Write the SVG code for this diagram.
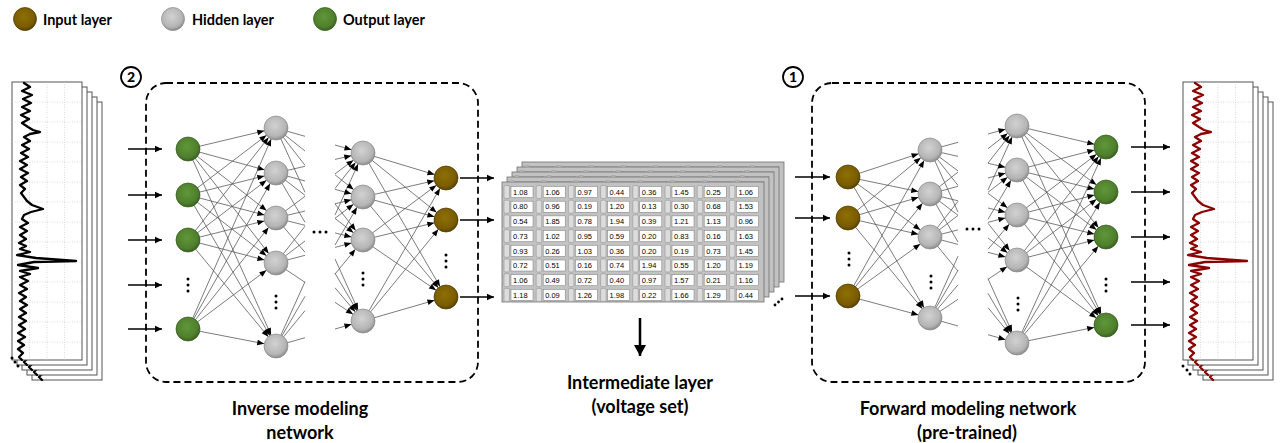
<svg xmlns="http://www.w3.org/2000/svg" xmlns:xlink="http://www.w3.org/1999/xlink" width="1280" height="443" viewBox="0 0 1280 443">
<style>
.c{stroke:#5a5a5a;stroke-width:0.8;fill:none}
.ca{stroke:#5a5a5a;stroke-width:0.8;fill:none;marker-end:url(#ah)}
.arr{stroke:#000;stroke-width:1.3;fill:none;marker-end:url(#ar)}
.box{fill:none;stroke:#000;stroke-width:1.8;stroke-dasharray:7 4}
.nb{fill:url(#gb);stroke:#4a3800;stroke-width:0.7}
.nh{fill:url(#gh);stroke:#8a8a8a;stroke-width:0.7}
.ng{fill:url(#gg);stroke:#34591f;stroke-width:0.7}
.lbl{font-family:Lato,"Liberation Sans",sans-serif;font-weight:bold;font-size:18px;text-anchor:middle;fill:#000}
.leg{font-family:Lato,"Liberation Sans",sans-serif;font-weight:bold;font-size:14.5px;fill:#000}
.num{font-family:"Liberation Sans",Arial,sans-serif;font-size:7.5px;fill:#000}
.pw{fill:#fff;stroke:#555;stroke-width:1}
.gl{stroke:#c4c4c4;stroke-width:0.6;stroke-dasharray:1 1.5}
.vp{fill:#c2c2c2;stroke:#707070;stroke-width:0.8}
.d{fill:#000}
.circ{fill:#fff;stroke:#000;stroke-width:1.8}
.cn{font-family:Lato,"Liberation Sans",sans-serif;font-weight:900;font-size:14px;text-anchor:middle}
</style>
<defs>
<radialGradient id="gb" cx="0.45" cy="0.4" r="0.6"><stop offset="0" stop-color="#8e6f06"/><stop offset="0.75" stop-color="#7a5c00"/><stop offset="1" stop-color="#584200"/></radialGradient>
<radialGradient id="gh" cx="0.45" cy="0.4" r="0.6"><stop offset="0" stop-color="#d2d2d2"/><stop offset="0.75" stop-color="#b5b5b5"/><stop offset="1" stop-color="#8c8c8c"/></radialGradient>
<radialGradient id="gg" cx="0.45" cy="0.4" r="0.6"><stop offset="0" stop-color="#609739"/><stop offset="0.75" stop-color="#4f7f2c"/><stop offset="1" stop-color="#3a6120"/></radialGradient>
<marker id="ah" markerUnits="userSpaceOnUse" markerWidth="30" markerHeight="30" orient="auto" overflow="visible" refX="0" refY="0"><path d="M-19,-2.8 L-12,0 L-19,2.8 z" fill="#000"/></marker>
<marker id="ar" markerUnits="userSpaceOnUse" markerWidth="30" markerHeight="30" orient="auto" overflow="visible" refX="0" refY="0"><path d="M-7,-3.2 L0,0 L-7,3.2 z" fill="#000"/></marker>
<marker id="ad" markerUnits="userSpaceOnUse" markerWidth="30" markerHeight="30" orient="auto" overflow="visible" refX="0" refY="0"><path d="M-11,-6 L0,0 L-11,6 z" fill="#000"/></marker>
<path id="spec" d="M12,1 L18,5 L10,9 L20,13 L11,17 L19,21 L10,25 L18,29 L9,33 L17,37 L10,41 L16,45 L21,48 L28,50 L18,52 L12,55 L18,59 L10,63 L17,67 L9,71 L16,75 L8,79 L15,83 L8,87 L16,91 L9,95 L15,99 L8,103 L13,107 L9,111 L12,115 L15,119 L20,123 L31,127 L19,130 L12,133 L10,137 L16,141 L8,145 L15,149 L8,153 L14,157 L7,161 L14,164 L8,167 L18,170 L5,173 L24,176 L64,179 L22,180 L6,183 L26,186 L8,189 L18,192 L8,195 L16,199 L8,203 L15,207 L7,211 L14,215 L8,219 L15,223 L8,227 L14,231 L7,235 L14,239 L7,243 L13,247 L6,251 L13,255 L6,259 L12,263 L6,267 L11,271 L7,275 L10,278" fill="none" stroke-width="2.3" stroke-linejoin="round" stroke-linecap="round"/>
<g id="grd">
<line class="gl" x1="17.5" y1="0" x2="17.5" y2="278"/><line class="gl" x1="35" y1="0" x2="35" y2="278"/><line class="gl" x1="52.5" y1="0" x2="52.5" y2="278"/>
<line class="gl" x1="0" y1="20" x2="70" y2="20"/><line class="gl" x1="0" y1="40" x2="70" y2="40"/><line class="gl" x1="0" y1="60" x2="70" y2="60"/><line class="gl" x1="0" y1="80" x2="70" y2="80"/><line class="gl" x1="0" y1="100" x2="70" y2="100"/><line class="gl" x1="0" y1="120" x2="70" y2="120"/><line class="gl" x1="0" y1="140" x2="70" y2="140"/><line class="gl" x1="0" y1="160" x2="70" y2="160"/><line class="gl" x1="0" y1="180" x2="70" y2="180"/><line class="gl" x1="0" y1="200" x2="70" y2="200"/><line class="gl" x1="0" y1="220" x2="70" y2="220"/><line class="gl" x1="0" y1="240" x2="70" y2="240"/><line class="gl" x1="0" y1="260" x2="70" y2="260"/>
</g>
<g id="cell"><rect x="-7" y="-6.5" width="5.5" height="13" rx="1.5" fill="#dcdcdc" stroke="#8a8a8a" stroke-width="0.5"/><rect x="0" y="-5.5" width="22" height="11" fill="#fff" stroke="#7a7a7a" stroke-width="0.5"/></g>
<g id="row"><use xlink:href="#cell" x="511"/><use xlink:href="#cell" x="543.2"/><use xlink:href="#cell" x="575.4"/><use xlink:href="#cell" x="607.6"/><use xlink:href="#cell" x="639.8"/><use xlink:href="#cell" x="672"/><use xlink:href="#cell" x="704.2"/><use xlink:href="#cell" x="736.4"/></g>
</defs>
<rect width="1280" height="443" fill="#fff"/>

<g id="legend">
<circle class="nb" cx="25" cy="19" r="11.5"/><text class="leg" x="43" y="24.5">Input layer</text>
<circle class="nh" cx="173" cy="19" r="11.5"/><text class="leg" x="192" y="24.5">Hidden layer</text>
<circle class="ng" cx="325" cy="19" r="11.5"/><text class="leg" x="343" y="24.5">Output layer</text>
</g>

<g id="input-spectra">
<rect class="pw" x="32" y="102" width="70" height="278"/><use xlink:href="#spec" x="32" y="102" stroke="#000"/>
<rect class="pw" x="27" y="97" width="70" height="278"/><use xlink:href="#spec" x="27" y="97" stroke="#000"/>
<rect class="pw" x="22" y="92" width="70" height="278"/><use xlink:href="#spec" x="22" y="92" stroke="#000"/>
<rect class="pw" x="17" y="87" width="70" height="278"/><use xlink:href="#spec" x="17" y="87" stroke="#000"/>
<rect class="pw" x="12" y="82" width="70" height="278"/><use xlink:href="#grd" x="12" y="82"/><use xlink:href="#spec" x="12" y="82" stroke="#000"/>
<circle class="d" cx="12" cy="358" r="1.5"/><circle class="d" cx="15" cy="362" r="1.5"/><circle class="d" cx="18" cy="366" r="1.5"/>
</g>

<g id="output-spectra">
<rect class="pw" x="1203" y="102" width="70" height="278"/><use xlink:href="#spec" x="1203" y="102" stroke="#8b0000"/>
<rect class="pw" x="1198" y="97" width="70" height="278"/><use xlink:href="#spec" x="1198" y="97" stroke="#8b0000"/>
<rect class="pw" x="1193" y="92" width="70" height="278"/><use xlink:href="#spec" x="1193" y="92" stroke="#8b0000"/>
<rect class="pw" x="1188" y="87" width="70" height="278"/><use xlink:href="#spec" x="1188" y="87" stroke="#8b0000"/>
<rect class="pw" x="1183" y="82" width="70" height="278"/><use xlink:href="#grd" x="1183" y="82"/><use xlink:href="#spec" x="1183" y="82" stroke="#8b0000"/>
<circle class="d" cx="1183" cy="366" r="1.5"/><circle class="d" cx="1187" cy="370" r="1.5"/><circle class="d" cx="1190" cy="374" r="1.5"/>
</g>

<g id="inverse-box"><rect class="box" x="146" y="83" width="332" height="299" rx="20"/><circle class="circ" cx="131" cy="77" r="10"/><text class="cn" x="131" y="82">2</text></g>
<g id="forward-box"><rect class="box" x="812" y="83" width="333" height="299" rx="20"/><circle class="circ" cx="793" cy="77" r="10"/><text class="cn" x="793" y="82">1</text></g>

<g id="voltage-set">
<rect class="vp" x="522" y="162" width="262" height="120"/><use xlink:href="#row" x="20" y="172"/>
<rect class="vp" x="517" y="167" width="262" height="120"/><use xlink:href="#row" x="15" y="177"/>
<rect class="vp" x="512" y="172" width="262" height="120"/><use xlink:href="#row" x="10" y="182"/>
<rect class="vp" x="507" y="177" width="262" height="120"/><use xlink:href="#row" x="5" y="187"/>
<rect class="vp" x="502" y="182" width="262" height="120"/>
<use xlink:href="#row" y="192"/><use xlink:href="#row" y="206.7"/><use xlink:href="#row" y="221.4"/><use xlink:href="#row" y="236.1"/><use xlink:href="#row" y="250.8"/><use xlink:href="#row" y="265.5"/><use xlink:href="#row" y="280.2"/><use xlink:href="#row" y="294.9"/>
<g class="num">
<g transform="translate(0,194.7)"><text x="513">1.08</text><text x="545.2">1.06</text><text x="577.4">0.97</text><text x="609.6">0.44</text><text x="641.8">0.36</text><text x="674">1.45</text><text x="706.2">0.25</text><text x="738.4">1.06</text></g>
<g transform="translate(0,209.4)"><text x="513">0.80</text><text x="545.2">0.96</text><text x="577.4">0.19</text><text x="609.6">1.20</text><text x="641.8">0.13</text><text x="674">0.30</text><text x="706.2">0.68</text><text x="738.4">1.53</text></g>
<g transform="translate(0,224.1)"><text x="513">0.54</text><text x="545.2">1.85</text><text x="577.4">0.78</text><text x="609.6">1.94</text><text x="641.8">0.39</text><text x="674">1.21</text><text x="706.2">1.13</text><text x="738.4">0.96</text></g>
<g transform="translate(0,238.8)"><text x="513">0.73</text><text x="545.2">1.02</text><text x="577.4">0.95</text><text x="609.6">0.59</text><text x="641.8">0.20</text><text x="674">0.83</text><text x="706.2">0.16</text><text x="738.4">1.63</text></g>
<g transform="translate(0,253.5)"><text x="513">0.93</text><text x="545.2">0.26</text><text x="577.4">1.03</text><text x="609.6">0.36</text><text x="641.8">0.20</text><text x="674">0.19</text><text x="706.2">0.73</text><text x="738.4">1.45</text></g>
<g transform="translate(0,268.2)"><text x="513">0.72</text><text x="545.2">0.51</text><text x="577.4">0.16</text><text x="609.6">0.74</text><text x="641.8">1.94</text><text x="674">0.55</text><text x="706.2">1.20</text><text x="738.4">1.19</text></g>
<g transform="translate(0,282.9)"><text x="513">1.06</text><text x="545.2">0.49</text><text x="577.4">0.72</text><text x="609.6">0.40</text><text x="641.8">0.97</text><text x="674">1.57</text><text x="706.2">0.21</text><text x="738.4">1.16</text></g>
<g transform="translate(0,297.6)"><text x="513">1.18</text><text x="545.2">0.09</text><text x="577.4">1.26</text><text x="609.6">1.98</text><text x="641.8">0.22</text><text x="674">1.66</text><text x="706.2">1.29</text><text x="738.4">0.44</text></g>
</g>
<circle class="d" cx="775" cy="305" r="1.4"/><circle class="d" cx="778.5" cy="302" r="1.4"/><circle class="d" cx="782" cy="299" r="1.4"/>
</g>

<g id="connectors">
<line class="arr" x1="128" y1="149" x2="162" y2="149"/><line class="arr" x1="128" y1="195" x2="162" y2="195"/><line class="arr" x1="128" y1="240" x2="162" y2="240"/><line class="arr" x1="128" y1="285" x2="162" y2="285"/><line class="arr" x1="128" y1="329" x2="162" y2="329"/>
<line class="arr" x1="460" y1="178" x2="494" y2="178"/><line class="arr" x1="460" y1="220" x2="494" y2="220"/><line class="arr" x1="460" y1="297" x2="494" y2="297"/>
<line class="arr" x1="795" y1="177" x2="830" y2="177"/><line class="arr" x1="795" y1="218" x2="830" y2="218"/><line class="arr" x1="795" y1="296" x2="830" y2="296"/>
<line class="arr" x1="1131" y1="147" x2="1170" y2="147"/><line class="arr" x1="1131" y1="192" x2="1170" y2="192"/><line class="arr" x1="1131" y1="237" x2="1170" y2="237"/><line class="arr" x1="1131" y1="282" x2="1170" y2="282"/><line class="arr" x1="1131" y1="325" x2="1170" y2="325"/>
<line x1="640" y1="318" x2="640" y2="356" stroke="#000" stroke-width="2.5" marker-end="url(#ad)"/>

<line class="ca" x1="188" y1="149" x2="276" y2="128"/><line class="ca" x1="188" y1="149" x2="276" y2="173"/><line class="ca" x1="188" y1="149" x2="276" y2="218"/><line class="ca" x1="188" y1="149" x2="276" y2="263"/><line class="ca" x1="188" y1="149" x2="276" y2="346"/>
<line class="ca" x1="188" y1="195" x2="276" y2="128"/><line class="ca" x1="188" y1="195" x2="276" y2="173"/><line class="ca" x1="188" y1="195" x2="276" y2="218"/><line class="ca" x1="188" y1="195" x2="276" y2="263"/><line class="ca" x1="188" y1="195" x2="276" y2="346"/>
<line class="ca" x1="188" y1="240" x2="276" y2="128"/><line class="ca" x1="188" y1="240" x2="276" y2="173"/><line class="ca" x1="188" y1="240" x2="276" y2="218"/><line class="ca" x1="188" y1="240" x2="276" y2="263"/><line class="ca" x1="188" y1="240" x2="276" y2="346"/>
<line class="ca" x1="188" y1="329" x2="276" y2="128"/><line class="ca" x1="188" y1="329" x2="276" y2="173"/><line class="ca" x1="188" y1="329" x2="276" y2="218"/><line class="ca" x1="188" y1="329" x2="276" y2="263"/><line class="ca" x1="188" y1="329" x2="276" y2="346"/>

<line class="c" x1="276" y1="128" x2="305" y2="136.3"/><line class="c" x1="276" y1="128" x2="305" y2="151"/><line class="c" x1="276" y1="128" x2="305" y2="165.3"/><line class="c" x1="276" y1="128" x2="305" y2="192.3"/>
<line class="c" x1="276" y1="173" x2="305" y2="166.3"/><line class="c" x1="276" y1="173" x2="305" y2="181"/><line class="c" x1="276" y1="173" x2="305" y2="195.3"/><line class="c" x1="276" y1="173" x2="305" y2="222.3"/>
<line class="c" x1="276" y1="218" x2="305" y2="196.3"/><line class="c" x1="276" y1="218" x2="305" y2="211"/><line class="c" x1="276" y1="218" x2="305" y2="225.3"/><line class="c" x1="276" y1="218" x2="305" y2="252.3"/>
<line class="c" x1="276" y1="263" x2="305" y2="226.3"/><line class="c" x1="276" y1="263" x2="305" y2="241"/><line class="c" x1="276" y1="263" x2="305" y2="255.3"/><line class="c" x1="276" y1="263" x2="305" y2="282.3"/>
<line class="c" x1="276" y1="346" x2="305" y2="281.7"/><line class="c" x1="276" y1="346" x2="305" y2="296.3"/><line class="c" x1="276" y1="346" x2="305" y2="310.7"/><line class="c" x1="276" y1="346" x2="305" y2="337.7"/>

<line class="ca" x1="335" y1="145" x2="363" y2="153"/><line class="ca" x1="335" y1="159.4" x2="363" y2="153"/><line class="ca" x1="335" y1="173.9" x2="363" y2="153"/><line class="ca" x1="335" y1="188.4" x2="363" y2="153"/><line class="ca" x1="335" y1="215.1" x2="363" y2="153"/>
<line class="ca" x1="335" y1="174.8" x2="363" y2="197"/><line class="ca" x1="335" y1="189.3" x2="363" y2="197"/><line class="ca" x1="335" y1="203.8" x2="363" y2="197"/><line class="ca" x1="335" y1="218.3" x2="363" y2="197"/><line class="ca" x1="335" y1="245" x2="363" y2="197"/>
<line class="ca" x1="335" y1="203.9" x2="363" y2="240"/><line class="ca" x1="335" y1="218.4" x2="363" y2="240"/><line class="ca" x1="335" y1="232.9" x2="363" y2="240"/><line class="ca" x1="335" y1="247.4" x2="363" y2="240"/><line class="ca" x1="335" y1="274.1" x2="363" y2="240"/>
<line class="ca" x1="335" y1="258.9" x2="363" y2="321"/><line class="ca" x1="335" y1="273.3" x2="363" y2="321"/><line class="ca" x1="335" y1="287.8" x2="363" y2="321"/><line class="ca" x1="335" y1="302.3" x2="363" y2="321"/><line class="ca" x1="335" y1="329" x2="363" y2="321"/>

<line class="ca" x1="363" y1="153" x2="446" y2="178"/><line class="ca" x1="363" y1="153" x2="446" y2="220"/><line class="ca" x1="363" y1="153" x2="446" y2="297"/>
<line class="ca" x1="363" y1="197" x2="446" y2="178"/><line class="ca" x1="363" y1="197" x2="446" y2="220"/><line class="ca" x1="363" y1="197" x2="446" y2="297"/>
<line class="ca" x1="363" y1="240" x2="446" y2="178"/><line class="ca" x1="363" y1="240" x2="446" y2="220"/><line class="ca" x1="363" y1="240" x2="446" y2="297"/>
<line class="ca" x1="363" y1="321" x2="446" y2="178"/><line class="ca" x1="363" y1="321" x2="446" y2="220"/><line class="ca" x1="363" y1="321" x2="446" y2="297"/>

<line class="ca" x1="848" y1="177" x2="930" y2="150"/><line class="ca" x1="848" y1="177" x2="930" y2="194"/><line class="ca" x1="848" y1="177" x2="930" y2="237"/><line class="ca" x1="848" y1="177" x2="930" y2="318"/>
<line class="ca" x1="848" y1="218" x2="930" y2="150"/><line class="ca" x1="848" y1="218" x2="930" y2="194"/><line class="ca" x1="848" y1="218" x2="930" y2="237"/><line class="ca" x1="848" y1="218" x2="930" y2="318"/>
<line class="ca" x1="848" y1="296" x2="930" y2="150"/><line class="ca" x1="848" y1="296" x2="930" y2="194"/><line class="ca" x1="848" y1="296" x2="930" y2="237"/><line class="ca" x1="848" y1="296" x2="930" y2="318"/>

<line class="c" x1="930" y1="150" x2="958" y2="142.3"/><line class="c" x1="930" y1="150" x2="958" y2="156.4"/><line class="c" x1="930" y1="150" x2="958" y2="170.9"/><line class="c" x1="930" y1="150" x2="958" y2="185.4"/><line class="c" x1="930" y1="150" x2="958" y2="212.1"/>
<line class="c" x1="930" y1="194" x2="958" y2="172.1"/><line class="c" x1="930" y1="194" x2="958" y2="186.3"/><line class="c" x1="930" y1="194" x2="958" y2="200.8"/><line class="c" x1="930" y1="194" x2="958" y2="215.3"/><line class="c" x1="930" y1="194" x2="958" y2="242"/>
<line class="c" x1="930" y1="237" x2="958" y2="201.3"/><line class="c" x1="930" y1="237" x2="958" y2="215.4"/><line class="c" x1="930" y1="237" x2="958" y2="229.9"/><line class="c" x1="930" y1="237" x2="958" y2="244.4"/><line class="c" x1="930" y1="237" x2="958" y2="271.1"/>
<line class="c" x1="930" y1="318" x2="958" y2="256.2"/><line class="c" x1="930" y1="318" x2="958" y2="270.3"/><line class="c" x1="930" y1="318" x2="958" y2="284.8"/><line class="c" x1="930" y1="318" x2="958" y2="299.3"/><line class="c" x1="930" y1="318" x2="958" y2="326"/>

<line class="ca" x1="988" y1="134" x2="1017" y2="126"/><line class="ca" x1="988" y1="148.7" x2="1017" y2="126"/><line class="ca" x1="988" y1="163" x2="1017" y2="126"/><line class="ca" x1="988" y1="190" x2="1017" y2="126"/>
<line class="ca" x1="988" y1="163.3" x2="1017" y2="170"/><line class="ca" x1="988" y1="178" x2="1017" y2="170"/><line class="ca" x1="988" y1="192.3" x2="1017" y2="170"/><line class="ca" x1="988" y1="219.3" x2="1017" y2="170"/>
<line class="ca" x1="988" y1="193.3" x2="1017" y2="215"/><line class="ca" x1="988" y1="208" x2="1017" y2="215"/><line class="ca" x1="988" y1="222.3" x2="1017" y2="215"/><line class="ca" x1="988" y1="249.3" x2="1017" y2="215"/>
<line class="ca" x1="988" y1="223.3" x2="1017" y2="260"/><line class="ca" x1="988" y1="238" x2="1017" y2="260"/><line class="ca" x1="988" y1="252.3" x2="1017" y2="260"/><line class="ca" x1="988" y1="279.3" x2="1017" y2="260"/>
<line class="ca" x1="988" y1="278.7" x2="1017" y2="343"/><line class="ca" x1="988" y1="293.3" x2="1017" y2="343"/><line class="ca" x1="988" y1="307.7" x2="1017" y2="343"/><line class="ca" x1="988" y1="334.7" x2="1017" y2="343"/>

<line class="ca" x1="1017" y1="126" x2="1106" y2="147"/><line class="ca" x1="1017" y1="126" x2="1106" y2="192"/><line class="ca" x1="1017" y1="126" x2="1106" y2="237"/><line class="ca" x1="1017" y1="126" x2="1106" y2="325"/>
<line class="ca" x1="1017" y1="170" x2="1106" y2="147"/><line class="ca" x1="1017" y1="170" x2="1106" y2="192"/><line class="ca" x1="1017" y1="170" x2="1106" y2="237"/><line class="ca" x1="1017" y1="170" x2="1106" y2="325"/>
<line class="ca" x1="1017" y1="215" x2="1106" y2="147"/><line class="ca" x1="1017" y1="215" x2="1106" y2="192"/><line class="ca" x1="1017" y1="215" x2="1106" y2="237"/><line class="ca" x1="1017" y1="215" x2="1106" y2="325"/>
<line class="ca" x1="1017" y1="260" x2="1106" y2="147"/><line class="ca" x1="1017" y1="260" x2="1106" y2="192"/><line class="ca" x1="1017" y1="260" x2="1106" y2="237"/><line class="ca" x1="1017" y1="260" x2="1106" y2="325"/>
<line class="ca" x1="1017" y1="343" x2="1106" y2="147"/><line class="ca" x1="1017" y1="343" x2="1106" y2="192"/><line class="ca" x1="1017" y1="343" x2="1106" y2="237"/><line class="ca" x1="1017" y1="343" x2="1106" y2="325"/>
</g>

<g id="inv-out-1"><circle class="ng" cx="188" cy="149" r="12"/></g>
<g id="inv-out-2"><circle class="ng" cx="188" cy="195" r="12"/></g>
<g id="inv-out-3"><circle class="ng" cx="188" cy="240" r="12"/></g>
<g id="inv-out-n"><circle class="ng" cx="188" cy="329" r="12"/></g>
<g id="inv-out-dots"><circle class="d" cx="188" cy="279" r="1.5"/><circle class="d" cx="188" cy="285" r="1.5"/><circle class="d" cx="188" cy="291" r="1.5"/></g>
<g id="inv-h1-1"><circle class="nh" cx="276" cy="128" r="12"/></g>
<g id="inv-h1-2"><circle class="nh" cx="276" cy="173" r="12"/></g>
<g id="inv-h1-3"><circle class="nh" cx="276" cy="218" r="12"/></g>
<g id="inv-h1-4"><circle class="nh" cx="276" cy="263" r="12"/></g>
<g id="inv-h1-n"><circle class="nh" cx="276" cy="346" r="12"/></g>
<g id="inv-h1-dots"><circle class="d" cx="276" cy="296" r="1.5"/><circle class="d" cx="276" cy="302" r="1.5"/><circle class="d" cx="276" cy="308" r="1.5"/></g>
<g id="inv-mid-dots"><circle class="d" cx="314" cy="232" r="1.5"/><circle class="d" cx="320" cy="232" r="1.5"/><circle class="d" cx="326" cy="232" r="1.5"/></g>
<g id="inv-h2-1"><circle class="nh" cx="363" cy="153" r="12"/></g>
<g id="inv-h2-2"><circle class="nh" cx="363" cy="197" r="12"/></g>
<g id="inv-h2-3"><circle class="nh" cx="363" cy="240" r="12"/></g>
<g id="inv-h2-n"><circle class="nh" cx="363" cy="321" r="12"/></g>
<g id="inv-h2-dots"><circle class="d" cx="363" cy="273" r="1.5"/><circle class="d" cx="363" cy="279" r="1.5"/><circle class="d" cx="363" cy="285" r="1.5"/></g>
<g id="inv-in-1"><circle class="nb" cx="446" cy="178" r="12"/></g>
<g id="inv-in-2"><circle class="nb" cx="446" cy="220" r="12"/></g>
<g id="inv-in-n"><circle class="nb" cx="446" cy="297" r="12"/></g>
<g id="inv-in-dots"><circle class="d" cx="446" cy="255" r="1.5"/><circle class="d" cx="446" cy="261" r="1.5"/><circle class="d" cx="446" cy="267" r="1.5"/></g>

<g id="fwd-in-1"><circle class="nb" cx="848" cy="177" r="12"/></g>
<g id="fwd-in-2"><circle class="nb" cx="848" cy="218" r="12"/></g>
<g id="fwd-in-n"><circle class="nb" cx="848" cy="296" r="12"/></g>
<g id="fwd-in-dots"><circle class="d" cx="849" cy="253" r="1.5"/><circle class="d" cx="849" cy="259" r="1.5"/><circle class="d" cx="849" cy="265" r="1.5"/></g>
<g id="fwd-h1-1"><circle class="nh" cx="930" cy="150" r="12"/></g>
<g id="fwd-h1-2"><circle class="nh" cx="930" cy="194" r="12"/></g>
<g id="fwd-h1-3"><circle class="nh" cx="930" cy="237" r="12"/></g>
<g id="fwd-h1-n"><circle class="nh" cx="930" cy="318" r="12"/></g>
<g id="fwd-h1-dots"><circle class="d" cx="931" cy="276" r="1.5"/><circle class="d" cx="931" cy="282" r="1.5"/><circle class="d" cx="931" cy="288" r="1.5"/></g>
<g id="fwd-mid-dots"><circle class="d" cx="967" cy="229" r="1.5"/><circle class="d" cx="973" cy="229" r="1.5"/><circle class="d" cx="979" cy="229" r="1.5"/></g>
<g id="fwd-h2-1"><circle class="nh" cx="1017" cy="126" r="12"/></g>
<g id="fwd-h2-2"><circle class="nh" cx="1017" cy="170" r="12"/></g>
<g id="fwd-h2-3"><circle class="nh" cx="1017" cy="215" r="12"/></g>
<g id="fwd-h2-4"><circle class="nh" cx="1017" cy="260" r="12"/></g>
<g id="fwd-h2-n"><circle class="nh" cx="1017" cy="343" r="12"/></g>
<g id="fwd-h2-dots"><circle class="d" cx="1018" cy="298" r="1.5"/><circle class="d" cx="1018" cy="304" r="1.5"/><circle class="d" cx="1018" cy="310" r="1.5"/></g>
<g id="fwd-out-1"><circle class="ng" cx="1106" cy="147" r="12"/></g>
<g id="fwd-out-2"><circle class="ng" cx="1106" cy="192" r="12"/></g>
<g id="fwd-out-3"><circle class="ng" cx="1106" cy="237" r="12"/></g>
<g id="fwd-out-n"><circle class="ng" cx="1106" cy="325" r="12"/></g>
<g id="fwd-out-dots"><circle class="d" cx="1106" cy="279" r="1.5"/><circle class="d" cx="1106" cy="285" r="1.5"/><circle class="d" cx="1106" cy="291" r="1.5"/></g>

<g id="labels">
<text class="lbl" x="640" y="389">Intermediate layer</text>
<text class="lbl" x="640" y="413">(voltage set)</text>
<text class="lbl" x="300" y="415">Inverse modeling</text>
<text class="lbl" x="300" y="439">network</text>
<text class="lbl" x="968" y="415">Forward modeling network</text>
<text class="lbl" x="967" y="439">(pre-trained)</text>
</g>
</svg>
